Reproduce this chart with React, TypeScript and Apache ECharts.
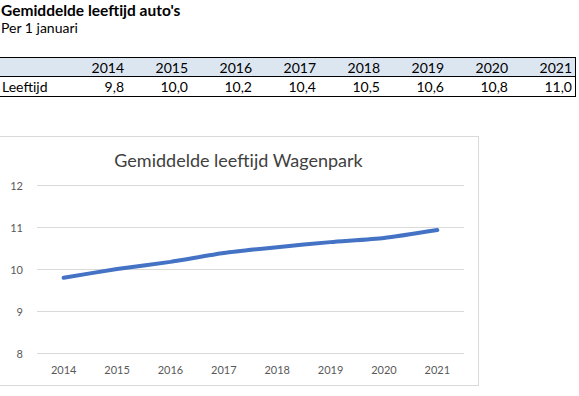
import React, { useEffect, useRef } from "react";
import * as echarts from "echarts";

const years = ["2014", "2015", "2016", "2017", "2018", "2019", "2020", "2021"];
const tableValues = ["9,8", "10,0", "10,2", "10,4", "10,5", "10,6", "10,8", "11,0"];
const chartValues = [9.79, 10.0, 10.17, 10.38, 10.52, 10.64, 10.74, 10.93];
const yTicks = [8, 9, 10, 11, 12];

const FONT = "Lato, 'Open Sans', sans-serif";

function Chart() {
  const ref = useRef<HTMLDivElement>(null);
  useEffect(() => {
    const chart = echarts.init(ref.current!, null, { renderer: "svg" });
    chart.setOption({
      animation: false,
      textStyle: { fontFamily: FONT },
      title: {
        text: "Gemiddelde leeftijd Wagenpark",
        left: "center",
        top: 9,
        textStyle: { fontFamily: FONT, fontSize: 18, fontWeight: "normal", color: "#404040" },
      },
      grid: { left: 38, right: 14, top: 48, bottom: 32 },
      xAxis: {
        type: "category",
        data: years,
        boundaryGap: true,
        axisLine: { show: false },
        axisTick: { show: false },
        axisLabel: { color: "#595959", fontSize: 11, margin: 11, fontFamily: FONT },
      },
      yAxis: {
        type: "value",
        min: yTicks[0],
        max: yTicks[yTicks.length - 1],
        interval: 1,
        axisLine: { show: false },
        axisTick: { show: false },
        axisLabel: { color: "#595959", fontSize: 11, margin: 14, fontFamily: FONT },
        splitLine: { lineStyle: { color: "#d9d9d9", width: 1 } },
      },
      series: [
        {
          type: "line",
          data: chartValues,
          smooth: 0.2,
          symbol: "none",
          lineStyle: { color: "#4472c4", width: 4, cap: "round" },
        },
      ],
    });
    return () => chart.dispose();
  }, []);
  return <div ref={ref} style={{ width: 479, height: 248 }} />;
}

export default function App() {
  const colRight = (i: number) => 124 + 64 * i;
  return (
    <div style={{ position: "fixed", left: 0, top: 0, width: 579, height: 396, background: "#fff", fontFamily: FONT, color: "#000", overflow: "hidden" }}>
      <div style={{ position: "absolute", left: 1, top: 0, fontSize: 15.5, fontWeight: "bold", lineHeight: "20px" }}>
        Gemiddelde leeftijd auto's
      </div>
      <div style={{ position: "absolute", left: 1, top: 18, fontSize: 14, lineHeight: "20px" }}>Per 1 januari</div>

      <div style={{ position: "absolute", left: 0, top: 57, width: 576, height: 19, background: "#dce6f1" }} />
      <div style={{ position: "absolute", left: 0, top: 57, width: 576, height: 1, background: "#000" }} />
      <div style={{ position: "absolute", left: 0, top: 76, width: 576, height: 1, background: "#000" }} />
      <div style={{ position: "absolute", left: 0, top: 96, width: 576, height: 1, background: "#000" }} />
      <div style={{ position: "absolute", left: 575, top: 57, width: 1, height: 40, background: "#000" }} />

      <div style={{ position: "absolute", left: 2, top: 77, fontSize: 14, lineHeight: "19px" }}>Leeftijd</div>
      {years.map((y, i) => (
        <div key={y} style={{ position: "absolute", left: colRight(i) - 60, width: 60, top: 58, fontSize: 14, lineHeight: "19px", textAlign: "right" }}>
          {y}
        </div>
      ))}
      {tableValues.map((v, i) => (
        <div key={i} style={{ position: "absolute", left: colRight(i) - 60, width: 60, top: 77, fontSize: 14, lineHeight: "19px", textAlign: "right" }}>
          {v}
        </div>
      ))}

      <div style={{ position: "absolute", left: -2, top: 136, width: 481, height: 250, border: "1px solid #d9d9d9", boxSizing: "border-box" }}>
        <Chart />
      </div>
    </div>
  );
}
